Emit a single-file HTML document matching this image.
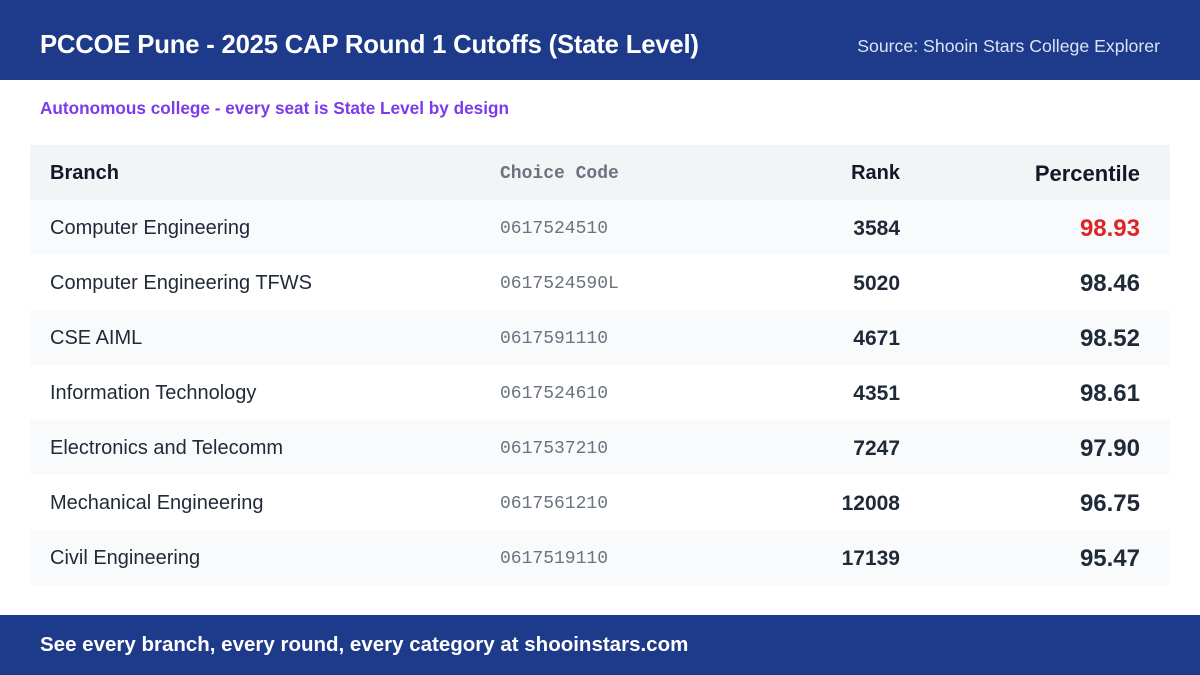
<!DOCTYPE html>
<html><head><meta charset="utf-8"><style>
*{margin:0;padding:0;box-sizing:border-box}
body{width:1200px;height:675px;background:#fff;font-family:"Liberation Sans",sans-serif;position:relative;overflow:hidden;color:#1f2937}
.hdr{position:absolute;left:0;top:0;width:1200px;height:80px;background:#1e3a8a;color:#fff}
.hdr .t{position:absolute;left:40px;top:29px;font-size:25.7px;font-weight:bold;line-height:32px;letter-spacing:-0.2px}
.hdr .s{position:absolute;right:40px;top:35px;font-size:17.7px;line-height:22px;color:#dbe3f5}
.sub{position:absolute;left:40px;top:98px;font-size:17.2px;font-weight:bold;color:#7c3aed}
.tbl{position:absolute;left:30px;top:145px;width:1140px}
.row{height:55px;position:relative;font-size:20px;line-height:57px}
.row div{position:absolute;top:0}
.c1{left:20px}
.c2{left:470px;font-family:"Liberation Mono",monospace;color:#6b7280;font-size:18px;top:1px!important}
.c3{right:270px;text-align:right;font-weight:bold;font-size:21px}
.c4{right:30px;text-align:right;font-weight:bold;font-size:24px}
.h{background:#f3f4f6;font-weight:bold;color:#111827;line-height:57px}
.h .c2{font-weight:bold}
.h .c3{font-size:20px}
.h .c4{font-size:22px}
.a{background:#f9fafb}
.ftr{position:absolute;left:0;top:615px;width:1200px;height:60px;background:#1e3a8a;color:#fff;font-size:20.5px;font-weight:bold;line-height:60px;padding-left:40px}
</style></head><body>
<div class="hdr"><div class="t">PCCOE Pune - 2025 CAP Round 1 Cutoffs (State Level)</div><div class="s">Source: Shooin Stars College Explorer</div></div>
<div class="sub">Autonomous college - every seat is State Level by design</div>
<div class="tbl">
<div class="row h"><div class="c1">Branch</div><div class="c2">Choice Code</div><div class="c3">Rank</div><div class="c4">Percentile</div></div>
<div class="row a"><div class="c1">Computer Engineering</div><div class="c2">0617524510</div><div class="c3">3584</div><div class="c4" style="color:#dc2626">98.93</div></div>
<div class="row"><div class="c1">Computer Engineering TFWS</div><div class="c2">0617524590L</div><div class="c3">5020</div><div class="c4">98.46</div></div>
<div class="row a"><div class="c1">CSE AIML</div><div class="c2">0617591110</div><div class="c3">4671</div><div class="c4">98.52</div></div>
<div class="row"><div class="c1">Information Technology</div><div class="c2">0617524610</div><div class="c3">4351</div><div class="c4">98.61</div></div>
<div class="row a"><div class="c1">Electronics and Telecomm</div><div class="c2">0617537210</div><div class="c3">7247</div><div class="c4">97.90</div></div>
<div class="row"><div class="c1">Mechanical Engineering</div><div class="c2">0617561210</div><div class="c3">12008</div><div class="c4">96.75</div></div>
<div class="row a"><div class="c1">Civil Engineering</div><div class="c2">0617519110</div><div class="c3">17139</div><div class="c4">95.47</div></div>
</div>
<div class="ftr">See every branch, every round, every category at shooinstars.com</div>
</body></html>
